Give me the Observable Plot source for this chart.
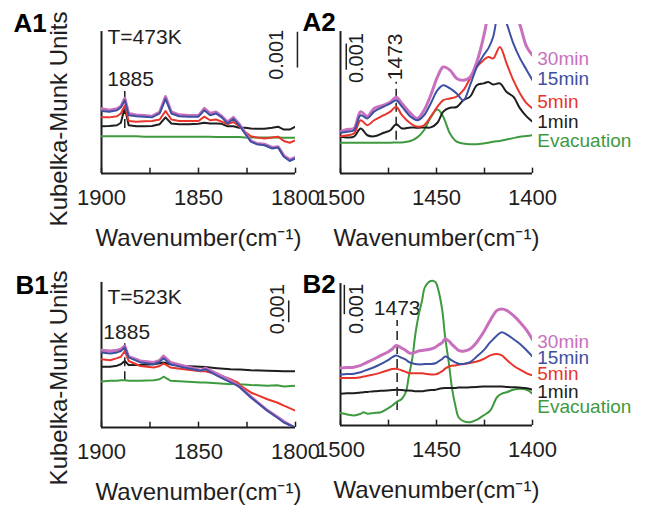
<!DOCTYPE html>
<html><head><meta charset="utf-8">
<script src="https://cdn.jsdelivr.net/npm/d3@7"></script>
<script src="https://cdn.jsdelivr.net/npm/@observablehq/plot@0.6"></script>
<style>
html,body{margin:0;padding:0;background:#fff;}
#fig{position:relative;width:660px;height:510px;overflow:hidden;background:#fff;}
.pn{position:absolute;}
.pn svg{overflow:visible;}
</style></head><body><div id="fig"></div>
<script>
// ---------- data (Kubelka-Munk, units of 0.001) ----------
const seriesNames = ["Evacuation", "1min", "5min", "15min", "30min"];
const seriesColors = ["#3f9a3f", "#1e1e1e", "#e8352c", "#3d50a2", "#c870bd"];
const legendOrder = ["30min", "15min", "5min", "1min", "Evacuation"];

// A1 : 473 K, 1900-1800 cm-1
const a1Wave = [1900,1896,1892,1890,1888,1886,1882,1878,1874,1870,1867,1864,1860,1855,1850,1847,1844,1841,1838,1835,1832,1829,1826,1823,1820,1816,1812,1809,1806,1803,1800];
const a1Evac = [1.04,1.04,1.04,1.04,1.04,1.04,1.04,1.03,1.03,1.03,1.03,1.03,1.03,1.03,1.03,1.03,1.03,1.02,1.02,1.02,1.02,1.02,1.01,1.01,1.01,1.01,1.01,1.01,1.00,1.00,1.00];
const a1Min1 = [1.32,1.33,1.35,1.42,1.85,1.35,1.32,1.32,1.33,1.38,1.57,1.40,1.38,1.38,1.39,1.42,1.40,1.40,1.39,1.32,1.32,1.28,1.28,1.26,1.25,1.25,1.28,1.31,1.23,1.23,1.31];
const a1Min5 = [1.57,1.57,1.60,1.68,1.90,1.47,1.45,1.46,1.47,1.51,1.75,1.51,1.47,1.47,1.47,1.59,1.49,1.51,1.45,1.38,1.44,1.32,1.17,1.04,1.01,0.98,1.01,1.03,0.91,0.86,0.93];
const a1Min15 = [1.75,1.73,1.77,1.85,2.05,1.63,1.60,1.59,1.57,1.68,2.09,1.68,1.60,1.59,1.59,1.77,1.63,1.68,1.57,1.40,1.53,1.35,1.12,0.89,0.82,0.79,0.70,0.73,0.47,0.35,0.42];
const a1Min30 = [1.81,1.77,1.81,1.88,2.10,1.68,1.64,1.62,1.60,1.72,2.15,1.72,1.64,1.62,1.62,1.82,1.68,1.72,1.60,1.44,1.57,1.38,1.14,0.91,0.84,0.82,0.73,0.75,0.50,0.39,0.45];

// A2 : 473 K, 1500-1400 cm-1
const a2Wave = [1500,1496.5,1493,1489.5,1486,1482.5,1477.5,1474,1471,1468,1463.5,1460,1456.5,1453,1449.5,1446.5,1443,1439.5,1436,1432.5,1429,1425.5,1423,1420.5,1417,1413.5,1410,1406.5,1403,1400];
const a2Evac = [0.86,0.86,0.86,0.86,0.86,0.86,0.86,0.86,0.87,0.87,0.91,1.01,1.21,1.57,1.79,1.59,1.12,0.89,0.84,0.82,0.82,0.84,0.86,0.89,0.91,0.95,0.99,1.03,1.05,1.07];
const a2Min1 = [1.03,1.01,1.03,1.26,1.07,1.04,1.14,1.21,1.38,1.26,1.29,1.28,1.29,1.29,1.42,1.73,1.84,1.86,2.05,2.15,2.47,2.52,2.56,2.49,2.52,2.28,2.15,1.82,1.59,1.45];
const a2Min5 = [1.04,1.07,1.12,1.49,1.35,1.49,1.63,1.73,1.87,1.63,1.40,1.31,1.35,1.59,1.87,2.05,2.10,2.15,2.33,2.66,2.98,3.17,3.26,3.22,3.54,3.08,2.61,2.24,1.96,1.82];
const a2Min15 = [1.14,1.17,1.21,1.63,1.54,1.73,1.87,1.96,2.05,1.87,1.59,1.49,1.63,1.96,2.33,2.47,2.38,2.24,2.05,2.47,2.98,3.31,3.50,3.82,4.66,4.20,3.64,3.22,2.89,2.61];
const a2Min30 = [1.17,1.23,1.26,1.73,1.60,1.82,1.91,2.00,2.13,1.96,1.68,1.54,1.77,2.19,2.70,2.98,2.89,2.66,2.61,2.70,3.12,3.82,4.48,5.04,5.41,5.22,4.66,4.15,3.54,3.31];

// B1 : 523 K, 1900-1800 cm-1
const b1Wave = [1900,1895.5,1892,1890,1888,1886,1880,1873,1870,1868,1864.5,1857.5,1849,1846.5,1840.5,1833.5,1830,1828.5,1823,1814.5,1809.5,1806,1800];
const b1Evac = [1.29,1.31,1.31,1.32,1.32,1.31,1.31,1.32,1.35,1.42,1.31,1.29,1.26,1.26,1.24,1.21,1.26,1.21,1.19,1.17,1.18,1.15,1.17];
const b1Min1 = [1.70,1.70,1.73,1.77,1.86,1.75,1.75,1.77,1.80,1.82,1.77,1.72,1.70,1.69,1.66,1.63,1.62,1.62,1.60,1.59,1.58,1.57,1.57];
const b1Min5 = [1.91,1.88,1.94,1.98,2.14,1.86,1.72,1.68,1.72,1.79,1.68,1.63,1.57,1.57,1.49,1.35,1.26,1.17,0.98,0.79,0.70,0.61,0.47];
const b1Min15 = [2.10,2.07,2.10,2.14,2.24,1.96,1.82,1.77,1.84,1.94,1.77,1.68,1.59,1.63,1.45,1.26,1.17,1.12,0.84,0.47,0.28,0.14,0.00];
const b1Min30 = [2.16,2.14,2.16,2.19,2.28,1.98,1.86,1.82,1.88,2.00,1.82,1.72,1.60,1.66,1.51,1.31,1.19,1.12,0.86,0.48,0.30,0.17,-0.02];

// B2 : 523 K, 1500-1400 cm-1
const b2Wave = [1500,1496.5,1493,1489.5,1488,1486,1482.5,1479,1475.5,1473,1471,1468,1466,1464.5,1462.5,1461,1459.5,1457.5,1456,1453,1450.5,1449,1447,1445.5,1443.5,1442,1440,1438.5,1436,1432.5,1429,1425.5,1422,1418.5,1416,1413.5,1410,1406.5,1403,1400];
const b2Evac = [0.35,0.31,0.28,0.33,0.37,0.33,0.35,0.37,0.47,0.56,0.65,0.75,0.93,1.35,1.91,2.56,3.03,3.50,3.87,4.04,4.01,3.78,3.22,2.47,1.72,1.07,0.51,0.23,0.12,0.09,0.16,0.28,0.42,0.79,0.89,0.93,1.00,1.03,1.00,0.89];
const b2Min1 = [0.89,0.90,0.90,0.92,0.93,0.94,0.96,0.97,0.98,0.99,1.00,0.99,0.98,0.98,0.97,0.96,0.96,0.96,0.97,0.99,1.00,1.02,1.04,1.05,1.05,1.05,1.05,1.06,1.06,1.07,1.08,1.09,1.09,1.09,1.09,1.08,1.07,1.06,1.04,1.00];
const b2Min5 = [1.33,1.33,1.33,1.35,1.37,1.39,1.43,1.48,1.54,1.58,1.59,1.54,1.50,1.47,1.46,1.46,1.46,1.46,1.45,1.43,1.43,1.46,1.52,1.59,1.65,1.67,1.68,1.70,1.72,1.75,1.79,1.86,1.96,2.00,1.96,1.84,1.68,1.56,1.46,1.40];
const b2Min15 = [1.43,1.44,1.45,1.49,1.52,1.56,1.63,1.72,1.82,1.91,1.96,1.89,1.84,1.78,1.74,1.72,1.71,1.71,1.72,1.72,1.74,1.79,1.86,1.93,1.88,1.82,1.76,1.73,1.72,1.77,1.93,2.10,2.33,2.52,2.61,2.55,2.42,2.28,2.10,1.93];
const b2Min30 = [1.61,1.62,1.63,1.68,1.72,1.77,1.86,1.96,2.05,2.14,2.24,2.16,2.10,2.04,2.02,2.05,2.08,2.10,2.11,2.14,2.19,2.25,2.32,2.42,2.36,2.27,2.17,2.10,2.08,2.14,2.33,2.61,2.94,3.22,3.26,3.22,3.08,2.89,2.66,2.40];

// ticks
const highTicks = [1900, 1875, 1850, 1825, 1800];
const highTickLabels = ["1900", "1850", "1800"];
const lowTicks = [1500, 1475, 1450, 1425, 1400];
const lowTickLabels = ["1500", "1450", "1400"];

// annotations
const a2LegendY = [3.03, 2.47, 1.83, 1.27, 0.74];
const b2LegendY = [2.18, 1.73, 1.26, 0.78, 0.34];

// ---------- drawing ----------
const FONT = "'Liberation Sans', Arial, Helvetica, sans-serif";
const INK = "#1e1e1e";
const PX_PER_UNIT = 35.75;
const drawOrder = ["Evacuation", "1min", "5min", "30min", "15min"];
const widthOf = {"Evacuation": 2, "1min": 2, "5min": 2, "15min": 2, "30min": 3};
const colorOf = Object.fromEntries(seriesNames.map((s, i) => [s, seriesColors[i]]));
const AXIS_TITLE = "Wavenumber(cm\u207B\u00B9)";

function panel(c) {
  const yTop = (c.height - c.mT - c.mB) / PX_PER_UNIT;
  const rows = [];
  seriesNames.forEach((s, k) => c.wave.forEach((w, i) => rows.push({w, v: c.values[k][i], s})));
  const marks = [];
  // axes
  marks.push(Plot.ruleY([0], {x1: c.xDomain[0], x2: c.xDomain[1], stroke: INK, strokeWidth: 2}));
  marks.push(Plot.ruleX([c.xDomain[0]], {y1: 0, y2: c.axisTop, stroke: INK, strokeWidth: 2}));
  marks.push(Plot.ruleX(c.ticks, {y1: 0, y2: 0.15, stroke: INK, strokeWidth: 1.5}));
  marks.push(Plot.text(c.tickLabels, {x: d => +d, text: d => d, frameAnchor: "bottom", dy: 31, lineAnchor: "bottom",
    fontSize: 22, fill: INK, fontFamily: FONT}));
  marks.push(Plot.text([AXIS_TITLE], {frameAnchor: "bottom", dy: 72, lineAnchor: "bottom",
    fontSize: 24, fill: INK, fontFamily: FONT}));
  // marker line + label
  marks.push(Plot.ruleX([c.marker.x], {y1: c.marker.y1, y2: c.marker.y2, stroke: INK, strokeWidth: 1.5, strokeDasharray: "9,5"}));
  marks.push(Plot.text([c.marker.label], {x: c.marker.tx, y: c.marker.ty, rotate: c.marker.rotate,
    textAnchor: c.marker.rotate ? "start" : "middle", lineAnchor: c.marker.rotate ? "middle" : "bottom",
    fontSize: 21, fill: INK, fontFamily: FONT}));
  // scale bar
  marks.push(Plot.ruleX([c.bar.x], {y1: c.bar.y1, y2: c.bar.y2, stroke: INK, strokeWidth: 1.5}));
  marks.push(Plot.text(["0.001"], {x: c.bar.tx, y: c.bar.ty, rotate: -90, textAnchor: "middle", lineAnchor: "middle",
    fontSize: 20, fill: INK, fontFamily: FONT}));
  // spectra
  drawOrder.forEach(s => {
    marks.push(Plot.line(rows.filter(r => r.s === s), {x: "w", y: "v", stroke: colorOf[s], strokeWidth: widthOf[s],
      curve: c.curve, clip: true, strokeLinejoin: "round"}));
  });
  // legend
  if (c.legendY) {
    const lg = legendOrder.map((s, i) => ({s, y: c.legendY[i], col: colorOf[s]}));
    marks.push(Plot.text(lg, {x: c.legendX, y: "y", text: "s", fill: "col", textAnchor: "start", lineAnchor: "bottom",
      fontSize: 19, fontFamily: FONT, ariaLabel: "legend"}));
  }
  // temperature text
  if (c.temp) {
    marks.push(Plot.text([c.temp], {frameAnchor: "top-left", dx: 6, dy: c.tempDy, textAnchor: "start", lineAnchor: "bottom",
      fontSize: 21, fill: INK, fontFamily: FONT}));
  }
  // y label
  if (c.yLabel) {
    marks.push(Plot.text(["Kubelka-Munk Units"], {frameAnchor: "left", dx: -42.5, dy: c.yLabelDy, rotate: -90,
      textAnchor: "middle", lineAnchor: "middle", fontSize: 24, fill: INK, fontFamily: FONT}));
  }
  // panel label
  marks.push(Plot.text([c.label], {frameAnchor: "top-left", dx: c.labelDx, dy: c.labelDy, textAnchor: "start",
    lineAnchor: "bottom", fontSize: 26, fontWeight: "bold", fill: "#000", fontFamily: FONT}));

  const svg = Plot.plot({
    width: c.width, height: c.height,
    marginLeft: c.mL, marginRight: c.mR, marginTop: c.mT, marginBottom: c.mB,
    x: {domain: c.xDomain, axis: null},
    y: {domain: [0, yTop], axis: null},
    style: {fontFamily: FONT, background: "transparent", overflow: "visible"},
    marks
  });
  svg.querySelectorAll('g[aria-label="legend"] text').forEach(t => t.style.letterSpacing = "2.2px");
  const div = document.createElement("div");
  div.className = "pn";
  div.style.left = c.left + "px";
  div.style.top = c.top + "px";
  div.appendChild(svg);
  document.getElementById("fig").appendChild(div);
}

panel({
  left: 0, top: 0, width: 320, height: 250, mL: 101, mR: 25, mT: 24, mB: 77,
  xDomain: [1900, 1800], wave: a1Wave, values: [a1Evac, a1Min1, a1Min5, a1Min15, a1Min30], curve: "linear",
  ticks: highTicks, tickLabels: highTickLabels, axisTop: 3.97,
  marker: {x: 1888, y1: 1.26, y2: 2.41, label: "1885", tx: 1885, ty: 2.46, rotate: 0},
  bar: {x: 1799, y1: 2.95, y2: 3.95, tx: 1810, ty: 3.32},
  temp: "T=473K", tempDy: 19, yLabel: true, yLabelDy: 20,
  label: "A1", labelDx: -88, labelDy: 7.5
});
panel({
  left: 320, top: 0, width: 340, height: 250, mL: 20, mR: 128, mT: 24, mB: 77,
  xDomain: [1500, 1400], wave: a2Wave, values: [a2Evac, a2Min1, a2Min5, a2Min15, a2Min30], curve: "catmull-rom",
  ticks: lowTicks, tickLabels: lowTickLabels, axisTop: 3.97,
  marker: {x: 1471, y1: 0.93, y2: 2.55, label: "1473", tx: 1471.5, ty: 2.61, rotate: -90},
  bar: {x: 1497, y1: 2.89, y2: 3.62, tx: 1491.7, ty: 3.23},
  legendX: 1397.5, legendY: a2LegendY,
  label: "A2", labelDx: -38, labelDy: 6.5
});
panel({
  left: 0, top: 250, width: 320, height: 260, mL: 101, mR: 25, mT: 26, mB: 83,
  xDomain: [1900, 1800], wave: b1Wave, values: [b1Evac, b1Min1, b1Min5, b1Min15, b1Min30], curve: "linear",
  ticks: highTicks, tickLabels: highTickLabels, axisTop: 4.06,
  marker: {x: 1888, y1: 1.31, y2: 2.40, label: "1885", tx: 1887, ty: 2.48, rotate: 0},
  bar: {x: 1803.5, y1: 2.93, y2: 3.54, tx: 1809, ty: 3.31},
  temp: "T=523K", tempDy: 27, yLabel: true, yLabelDy: 26,
  label: "B1", labelDx: -86, labelDy: 17
});
panel({
  left: 320, top: 250, width: 340, height: 260, mL: 20, mR: 128, mT: 24, mB: 85,
  xDomain: [1500, 1400], wave: b2Wave, values: [b2Evac, b2Min1, b2Min5, b2Min15, b2Min30], curve: "catmull-rom",
  ticks: lowTicks, tickLabels: lowTickLabels, axisTop: 3.97,
  marker: {x: 1470.5, y1: 0.42, y2: 2.94, label: "1473", tx: 1470.5, ty: 3.08, rotate: 0},
  bar: {x: 1498, y1: 3.10, y2: 3.92, tx: 1491.7, ty: 3.26},
  legendX: 1397.5, legendY: b2LegendY,
  label: "B2", labelDx: -38, labelDy: 18
});
</script></body></html>
